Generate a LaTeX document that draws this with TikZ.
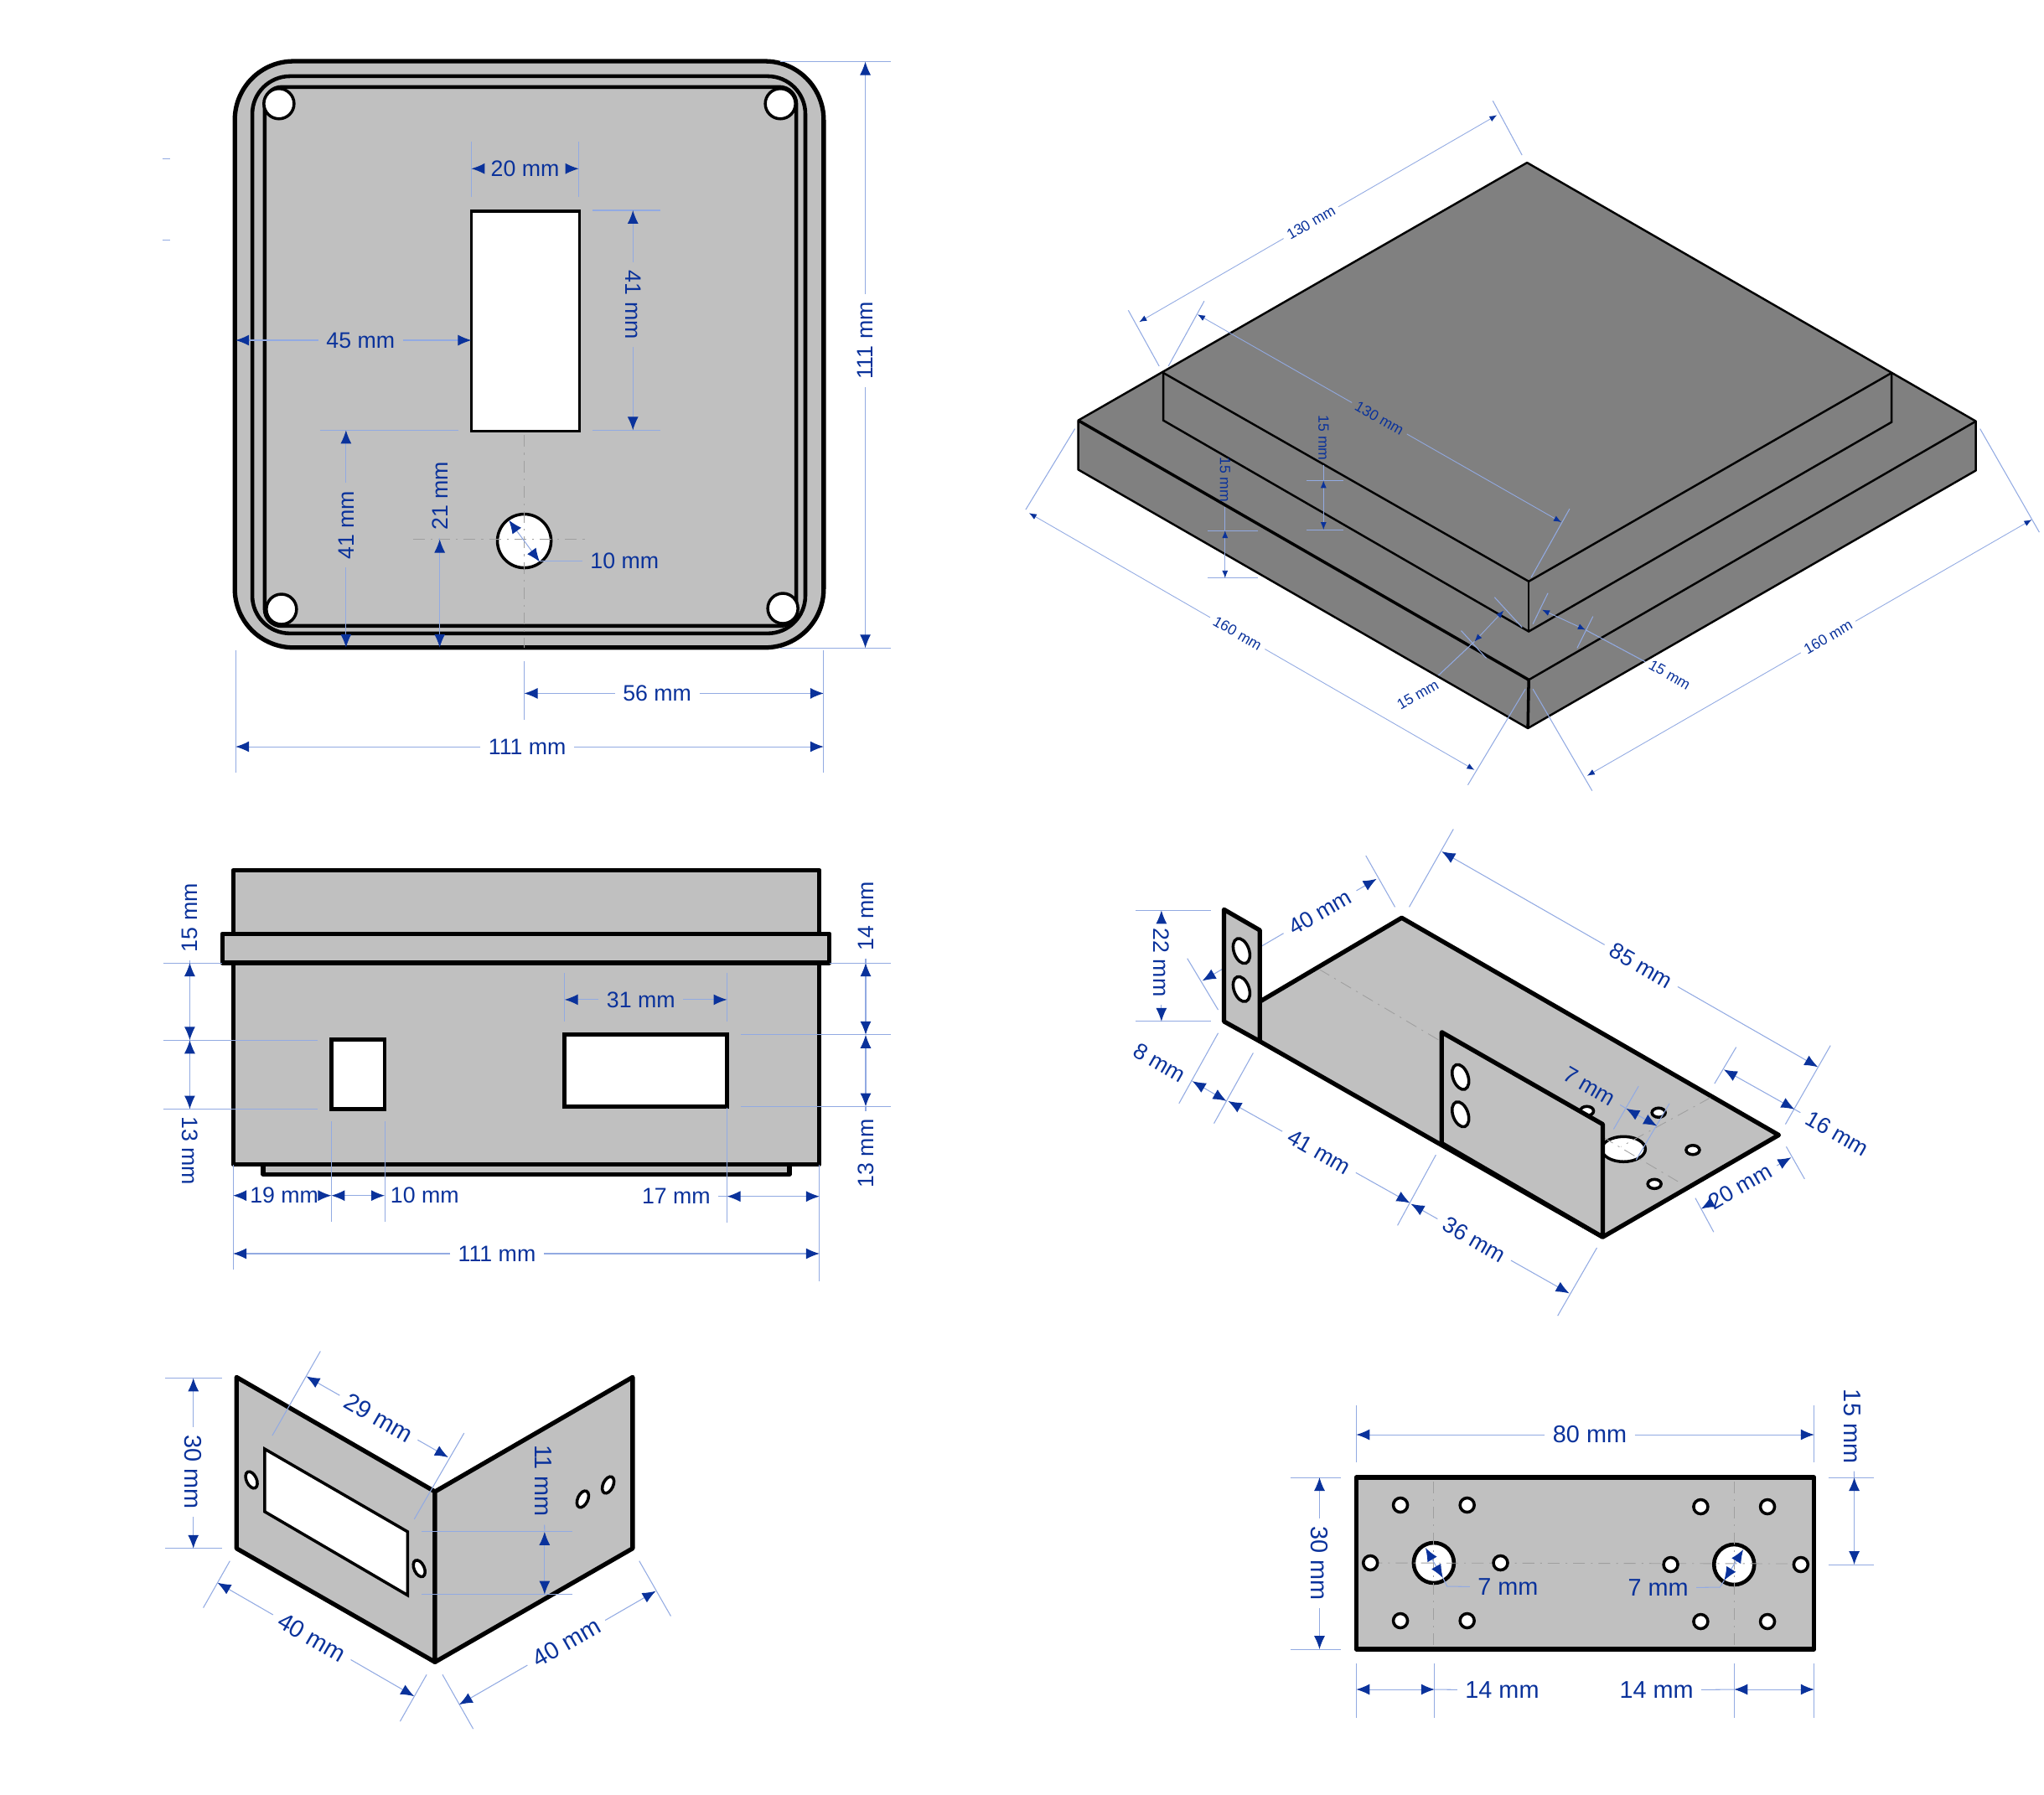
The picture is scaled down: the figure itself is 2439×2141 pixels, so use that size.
\documentclass[tikz,border=0pt]{standalone}
\usepackage{fontspec}
\setmainfont{Liberation Sans}
\usetikzlibrary{arrows.meta,shapes.geometric}
\definecolor{dimblue}{RGB}{10,50,155}
\definecolor{dimgrey}{RGB}{146,170,226}
\definecolor{plate}{RGB}{192,192,192}
\definecolor{block}{RGB}{128,128,128}
\tikzset{
  dimtext/.style={text=dimblue,font=\fontsize{7.6pt}{8pt}\selectfont,inner sep=2.5pt},
  bigtext/.style={text=dimblue,font=\fontsize{8.2pt}{9pt}\selectfont,inner sep=2.5pt},
  smalltext/.style={text=dimblue,font=\fontsize{5pt}{6pt}\selectfont,inner sep=1.5pt},
  extline/.style={draw=dimgrey,line width=0.3pt},
  dimline/.style={draw=dimgrey,line width=0.3pt,-{Latex[length=1.6mm,width=1.3mm,color=dimblue]}},
  dimboth/.style={draw=dimgrey,line width=0.3pt,{Latex[length=1.6mm,width=1.3mm,color=dimblue]}-{Latex[length=1.6mm,width=1.3mm,color=dimblue]}},
  tinyline/.style={draw=dimgrey,line width=0.25pt,-{Latex[length=0.9mm,width=0.7mm,color=dimblue]}},
  tinyboth/.style={draw=dimgrey,line width=0.25pt,{Latex[length=0.9mm,width=0.7mm,color=dimblue]}-{Latex[length=0.9mm,width=0.7mm,color=dimblue]}},
  centreline/.style={draw=gray!75,line width=0.25pt,dash pattern=on 4pt off 2pt on 0.6pt off 2pt},
  sheet/.style={draw=black,line width=1.5pt,line join=round,fill=plate},
  solid block/.style={draw=black,line width=0.7pt,line join=round,fill=block},
  window/.style={draw=black,line width=1pt,fill=white},
  hole/.style={draw=black,circle,fill=white,line width=1pt,inner sep=0pt},
  slot/.style={draw=black,ellipse,fill=white,line width=1pt,inner sep=0pt}
}
\begin{document}
\begin{tikzpicture}[x=0.01cm,y=-0.01cm]
\useasboundingbox (0,0) rectangle (2439,2141);

% lid, front view
\begin{scope}[x=0.009934cm,y=-0.009934cm,shift={(1.9,0.5)}]
\path[draw=dimgrey,line width=0.3pt] (193,190.5) -- (202,190.5);
\path[draw=dimgrey,line width=0.3pt] (193,287.5) -- (202,287.5);
\path[sheet,rounded corners=0.7cm] (280,73) rectangle (987,777);
\path[draw,line width=1.3pt,rounded corners=0.45cm] (301,91) rectangle (965,760);
\path[draw,line width=1.3pt,rounded corners=0.2cm] (316,104) rectangle (954,751);
\node[hole,minimum size=0.36cm] (a1) at (333,124) {};
\node[hole,minimum size=0.36cm] (a2) at (935,124) {};
\node[hole,minimum size=0.36cm] (a3) at (336,731) {};
\node[hole,minimum size=0.36cm] (a4) at (938,730) {};
\path[window] (564,253) rectangle (694,517);
\node[hole,minimum size=0.64cm] (a5) at (627.5,649) {};
\path[centreline] (494,647) -- (700,647);
\path[centreline] (627.5,522) -- (627.5,777);

\path[extline] (564,170) -- (564,236);
\path[extline] (693,170) -- (693,236);
\path (564,202) coordinate (a6) -- (693,202) coordinate (a7) node[dimtext,pos=.5] (a8) {20 mm};
\path[dimline] (a8) -- (a6);
\path[dimline] (a8) -- (a7);
\path[extline] (709,252) -- (791,252);
\path[extline] (709,516) -- (791,516);
\path (758,252) coordinate (a9) -- (758,516) coordinate (a10) node[dimtext,pos=.43,rotate=-90] (a11) {41 mm};
\path[dimline] (a11) -- (a9);
\path[dimline] (a11) -- (a10);
\path (281,408) coordinate (a12) -- (564,408) coordinate (a13) node[dimtext,pos=.53] (a14) {45 mm};
\path[dimline] (a14) -- (a12);
\path[dimline] (a14) -- (a13);
\path[extline] (382,516) -- (548,516);
\path (413.5,516) coordinate (a15) -- (413.5,777) coordinate (a16) node[dimtext,pos=.437,rotate=90] (a17) {41 mm};
\path[dimline] (a17) -- (a15);
\path[dimline] (a17) -- (a16);
\node[dimtext,rotate=90] (a18) at (526,595) {21 mm};
\coordinate (a19) at (526,647);
\coordinate (a20) at (526,777);
\path[dimboth] (a19) -- (a20);
\path[extline] (a18) -- (a19);
\path[dimboth] (609,624) -- (646,674);
\node[dimtext] (a21) at (748,673) {10 mm};
\path[extline] (a21) -- (646,673);
\path[extline] (627.5,793) -- (627.5,864);
\path (627.5,832) coordinate (a22) -- (987,832) coordinate (a23) node[dimtext,pos=.444] (a24) {56 mm};
\path[dimline] (a24) -- (a22);
\path[dimline] (a24) -- (a23);
\path[extline] (281,780) -- (281,927);
\path[extline] (987,780) -- (987,927);
\path (281,896) coordinate (a25) -- (987,896) coordinate (a26) node[dimtext,pos=.496] (a27) {111 mm};
\path[dimline] (a27) -- (a25);
\path[dimline] (a27) -- (a26);
\path[extline] (935,73.5) -- (1068,73.5);
\path[extline] (935,777.5) -- (1068,777.5);
\path (1037,73.5) coordinate (a28) -- (1037,777.5) coordinate (a29) node[dimtext,pos=.476,rotate=90] (a30) {111 mm};
\path[dimline] (a30) -- (a28);
\path[dimline] (a30) -- (a29);
\end{scope}

% stepped block
\begin{scope}[x=0.009942cm,y=-0.00995cm,shift={(5.5,0.97)}]
\path[solid block] (1287,503) -- (1825,194) -- (2363,504) -- (2363,563) -- (1826,872) -- (1287,562) -- cycle;
\path[draw,line width=1pt] (1287,503) -- (1827,814);
\path[draw,line width=0.7pt] (1827,814) -- (2363,504);
\path[draw,line width=1pt] (1827,814) -- (1826,872);
\path[draw,line width=0.7pt] (1389,446) -- (1827,696) -- (2262,446);
\path[draw,line width=0.7pt] (1389,446) -- (1389,503) -- (1827,756) -- (2262,505) -- (2262,446);
\path[draw,line width=0.7pt] (1827,696) -- (1827,756);

\path[extline] (1784,120) -- (1819,185);
\path[extline] (1347,371) -- (1384,438);
\path (1360,385) coordinate (b1) -- (1789,137) coordinate (b2) node[smalltext,pos=.48,rotate=30] (b3) {130 mm};
\path[tinyline] (b3) -- (b1);
\path[tinyline] (b3) -- (b2);
\path[extline] (1438,360) -- (1395,438);
\path[extline] (1876,609) -- (1830,691);
\path (1430,376) coordinate (b4) -- (1866,625) coordinate (b5) node[smalltext,pos=.5,rotate=-30] (b6) {130 mm};
\path[tinyline] (b6) -- (b4);
\path[tinyline] (b6) -- (b5);
\path[extline] (1283,513) -- (1224,610);
\path[extline] (1823,825) -- (1754,940);
\path (1228,614) coordinate (b7) -- (1762,922) coordinate (b8) node[smalltext,pos=.468,rotate=-30] (b9) {160 mm};
\path[tinyline] (b9) -- (b7);
\path[tinyline] (b9) -- (b8);
\path[extline] (1832,825) -- (1903,947);
\path[extline] (2368,513) -- (2439,637);
\path (1897,929) coordinate (b10) -- (2430,622) coordinate (b11) node[smalltext,pos=.542,rotate=30] (b12) {160 mm};
\path[tinyline] (b12) -- (b10);
\path[tinyline] (b12) -- (b11);
\path[extline] (1561,575) -- (1605,575);
\path[extline] (1561,634) -- (1605,634);
\node[smalltext,rotate=-90] (b13) at (1581,524) {15 mm};
\path[tinyboth] (1581,575) coordinate (b14) -- (1581,634);
\path[extline] (b13) -- (b14);
\path[extline] (1442,635) -- (1502,635);
\path[extline] (1442,692) -- (1502,692);
\node[smalltext,rotate=-90] (b15) at (1463,574) {15 mm};
\path[tinyboth] (1463,635) coordinate (b16) -- (1463,692);
\path[extline] (b15) -- (b16);
\path[extline] (1786,715) -- (1819,751);
\path[extline] (1746,755) -- (1776,788);
\node[smalltext,rotate=30] (b17) at (1694,832) {15 mm};
\path[tinyboth] (1797,731) -- (1762,768) coordinate (b18);
\path[extline] (b17) -- (b18);
\path[extline] (1850,710) -- (1832,747);
\path[extline] (1904,738) -- (1885,776);
\node[smalltext,rotate=-30] (b19) at (1996,808) {15 mm};
\path[tinyboth] (1843,730) -- (1895,754) coordinate (b20);
\path[extline] (b19) -- (b20);
\end{scope}

% box, side view
\begin{scope}[x=0.009934cm,y=-0.009966cm,shift={(1.85,3.54)}]
\path[sheet] (278,1038) rectangle (982,1390);
\path[sheet] (314,1390) rectangle (946,1402);
\path[sheet] (265,1114) rectangle (994,1149);
\path[window,line width=1.3pt] (396,1241) rectangle (460,1324);
\path[window,line width=1.3pt] (676,1235) rectangle (871,1321);

\path[extline] (194,1149) -- (265,1149);
\path[extline] (194,1241.5) -- (379,1241.5);
\path[extline] (194,1324) -- (379,1324);
\node[dimtext,rotate=90] (c1) at (226,1095) {15 mm};
\path[dimboth] (226,1149) coordinate (c2) -- (226,1241.5);
\path[extline] (c1) -- (c2);
\node[dimtext,rotate=-90] (c3) at (226,1374) {13 mm};
\path[dimboth] (226,1241.5) -- (226,1324) coordinate (c4);
\path[extline] (c3) -- (c4);
\path[extline] (994,1149) -- (1068,1149);
\path[extline] (888,1235) -- (1068,1235);
\path[extline] (888,1321) -- (1068,1321);
\node[dimtext,rotate=90] (c5) at (1037.5,1093) {14 mm};
\path[dimboth] (1037.5,1149) coordinate (c6) -- (1037.5,1235);
\path[extline] (c5) -- (c6);
\node[dimtext,rotate=90] (c7) at (1037.5,1377) {13 mm};
\path[dimboth] (1037.5,1235) -- (1037.5,1321) coordinate (c8);
\path[extline] (c7) -- (c8);
\path[extline] (676,1161) -- (676,1219);
\path[extline] (871,1161) -- (871,1219);
\path (676,1193) coordinate (c9) -- (871,1193) coordinate (c10) node[dimtext,pos=.47] (c11) {31 mm};
\path[dimline] (c11) -- (c9);
\path[dimline] (c11) -- (c10);
\path[extline] (396,1339) -- (396,1459);
\path[extline] (460,1339) -- (460,1459);
\path[extline] (871,1322) -- (871,1460);
\path[extline] (278,1391) -- (278,1516);
\path[extline] (982,1391) -- (982,1530);
\path (278,1427.5) coordinate (c12) -- (396,1427.5) coordinate (c13) node[dimtext,pos=.52] (c14) {19 mm};
\path[dimline] (c14) -- (c12);
\path[dimline] (c14) -- (c13);
\path[dimboth] (396,1427.5) -- (460,1427.5);
\node[dimtext] (c15) at (508,1427.5) {10 mm};
\node[dimtext] (c16) at (810,1428.5) {17 mm};
\path[dimboth] (871,1428.5) coordinate (c17) -- (982,1428.5);
\path[extline] (c16) -- (c17);
\path (278,1497) coordinate (c18) -- (982,1497) coordinate (c19) node[dimtext,pos=.45] (c20) {111 mm};
\path[dimline] (c20) -- (c18);
\path[dimline] (c20) -- (c19);
\end{scope}

% bracket with two tabs
\begin{scope}[x=0.009953cm,y=-0.00989cm,shift={(6.2,12.05)}]
\path[extline] (1355,1086) -- (1445,1086);
\path[extline] (1355,1220) -- (1445,1220);
\path (1386,1086) coordinate (d1) -- (1386,1220) coordinate (d2) node[dimtext,pos=.47,rotate=-90] (d3) {22 mm};
\path[dimline] (d3) -- (d1);
\path[dimline] (d3) -- (d2);
\path[extline] (1417,1144) -- (1454,1206);
\path[extline] (1631,1020) -- (1666,1082);
\path (1435,1171) coordinate (d4) -- (1644,1048) coordinate (d5) node[dimtext,pos=.675,rotate=30] (d6) {40 mm};
\path[dimline] (d6) -- (d4);
\path[dimline] (d6) -- (d5);
\path[sheet] (1504,1196) -- (1674,1095) -- (2126,1357) -- (1915,1480) -- (1504,1244) -- cycle;
\node[slot,minimum width=0.52cm,minimum height=0.3cm] (d7) at (1940,1374) {};
\path[centreline] (1575,1157) -- (2005,1413);
\path[centreline] (2044,1312) -- (1937,1371);
\node[slot,minimum width=0.16cm,minimum height=0.11cm] (d8) at (1896,1328) {};
\node[slot,minimum width=0.16cm,minimum height=0.11cm] (d9) at (1982,1330) {};
\node[slot,minimum width=0.16cm,minimum height=0.11cm] (d10) at (2023,1375) {};
\node[slot,minimum width=0.16cm,minimum height=0.11cm] (d11) at (1977,1416) {};
\path[sheet] (1461,1085) -- (1504,1110) -- (1504,1244) -- (1461,1220) -- cycle;
\node[slot,minimum width=0.18cm,minimum height=0.31cm,rotate=20] (d12) at (1482,1135) {};
\node[slot,minimum width=0.18cm,minimum height=0.31cm,rotate=20] (d13) at (1482,1181) {};
\path[sheet] (1722,1233) -- (1915,1344) -- (1915,1480) -- (1722,1367) -- cycle;
\node[slot,minimum width=0.18cm,minimum height=0.31cm,rotate=20] (d14) at (1744.5,1287) {};
\node[slot,minimum width=0.18cm,minimum height=0.31cm,rotate=20] (d15) at (1744.5,1332) {};

\path[extline] (1736,988) -- (1683,1082);
\path[extline] (2188,1249) -- (2134,1344);
\path (1722,1015) coordinate (d16) -- (2173,1275) coordinate (d17) node[dimtext,pos=.53,rotate=-30] (d18) {85 mm};
\path[dimline] (d18) -- (d16);
\path[dimline] (d18) -- (d17);
\path[extline] (2075,1251) -- (2049,1295);
\node[dimtext,rotate=-30] (d19) at (2196,1355) {16 mm};
\path[dimboth] (2060,1278) -- (2145,1326) coordinate (d20);
\path[extline] (d19) -- (d20);
\path[extline] (1958,1298) -- (1928,1350);
\path[extline] (1995,1319) -- (1955,1387);
\node[dimtext,rotate=-30] (d21) at (1899,1298) {7 mm};
\path[dimboth] (1943,1325) coordinate (d22) -- (1980,1346);
\path[extline] (d21) -- (d22);
\path[extline] (2135,1371) -- (2157,1410);
\path[extline] (2026,1433) -- (2048,1474);
\path (2141,1384) coordinate (d23) -- (2033,1446) coordinate (d24) node[dimtext,pos=.567,rotate=30] (d25) {20 mm};
\path[dimline] (d25) -- (d23);
\path[dimline] (d25) -- (d24);
\path[extline] (1454,1234) -- (1407,1319);
\path[extline] (1496,1258) -- (1449,1343);
\node[dimtext,rotate=-30] (d26) at (1384,1270) {8 mm};
\path[dimboth] (1423,1292) coordinate (d27) -- (1464,1316);
\path[extline] (d26) -- (d27);
\path (1466,1316) coordinate (d28) -- (1684,1439) coordinate (d29) node[dimtext,pos=.5,rotate=-30] (d30) {41 mm};
\path[dimline] (d30) -- (d28);
\path[dimline] (d30) -- (d29);
\path[extline] (1715,1381) -- (1669,1466);
\path (1685,1440) coordinate (d31) -- (1875,1548) coordinate (d32) node[dimtext,pos=.40,rotate=-30] (d33) {36 mm};
\path[dimline] (d33) -- (d31);
\path[dimline] (d33) -- (d32);
\path[extline] (1908,1493) -- (1861,1575);
\end{scope}

% corner piece
\begin{scope}[x=0.0099cm,y=-0.00996cm,shift={(3.85,6.4)}]
\path[sheet] (281,1642) -- (520,1779) -- (520,1983) -- (281,1847) -- cycle;
\path[sheet] (520,1779) -- (758,1642) -- (758,1847) -- (520,1983) -- cycle;
\path[window] (315,1728) -- (487,1827) -- (487,1903) -- (315,1803) -- cycle;
\node[slot,minimum width=0.12cm,minimum height=0.21cm,rotate=25] (e1) at (299,1765) {};
\node[slot,minimum width=0.12cm,minimum height=0.21cm,rotate=25] (e2) at (501,1871) {};
\node[slot,minimum width=0.12cm,minimum height=0.21cm,rotate=-25] (e3) at (698,1788) {};
\node[slot,minimum width=0.12cm,minimum height=0.21cm,rotate=-25] (e4) at (728.5,1771) {};

\path[extline] (195,1643) -- (264,1643);
\path[extline] (195,1847) -- (264,1847);
\path (229,1643) coordinate (e5) -- (229,1847) coordinate (e6) node[bigtext,pos=.55,rotate=-90] (e7) {30 mm};
\path[dimline] (e7) -- (e5);
\path[dimline] (e7) -- (e6);
\path[extline] (382,1611) -- (324,1712);
\path[extline] (555,1709) -- (495,1812);
\path (365,1641) coordinate (e8) -- (536,1738) coordinate (e9) node[bigtext,pos=.51,rotate=-30] (e10) {29 mm};
\path[dimline] (e10) -- (e8);
\path[dimline] (e10) -- (e9);
\path[extline] (504,1827) -- (685,1827);
\path[extline] (504,1902) -- (685,1902);
\node[bigtext,rotate=-90] (e11) at (651,1766) {11 mm};
\path[dimboth] (652,1827) coordinate (e12) -- (652,1902);
\path[extline] (e11) -- (e12);
\path[extline] (273,1862) -- (241,1918);
\path[extline] (510,1998) -- (478,2054);
\path (258,1888) coordinate (e13) -- (495,2024) coordinate (e14) node[bigtext,pos=.48,rotate=-30] (e15) {40 mm};
\path[dimline] (e15) -- (e13);
\path[dimline] (e15) -- (e14);
\path[extline] (529,1998) -- (566,2063);
\path[extline] (766,1862) -- (804,1928);
\path (549,2034) coordinate (e16) -- (786,1898) coordinate (e17) node[bigtext,pos=.545,rotate=30] (e18) {40 mm};
\path[dimline] (e18) -- (e16);
\path[dimline] (e18) -- (e17);
\end{scope}

% base plate with holes
\begin{scope}[x=0.009943cm,shift={(7.7,0)}]
\path[sheet] (1618,1763) rectangle (2167,1968);
\node[hole,line width=1.3pt,minimum size=0.48cm] (f1) at (1711,1865) {};
\node[hole,line width=1.3pt,minimum size=0.48cm] (f2) at (2071,1867) {};
\path[centreline] (1635,1865) -- (2151,1866);
\path[centreline] (1711,1768) -- (1711,1963);
\path[centreline] (2071,1768) -- (2071,1963);
\node[hole,minimum size=0.17cm] (f3) at (1671,1796) {};
\node[hole,minimum size=0.17cm] (f4) at (1751,1796) {};
\node[hole,minimum size=0.17cm] (f5) at (1635,1865) {};
\node[hole,minimum size=0.17cm] (f6) at (1791,1865) {};
\node[hole,minimum size=0.17cm] (f7) at (1671,1934) {};
\node[hole,minimum size=0.17cm] (f8) at (1751,1934) {};
\node[hole,minimum size=0.17cm] (f9) at (2031,1798) {};
\node[hole,minimum size=0.17cm] (f10) at (2111,1798) {};
\node[hole,minimum size=0.17cm] (f11) at (1995,1867) {};
\node[hole,minimum size=0.17cm] (f12) at (2151,1867) {};
\node[hole,minimum size=0.17cm] (f13) at (2031,1935) {};
\node[hole,minimum size=0.17cm] (f14) at (2111,1935) {};

\path[extline] (1618,1677) -- (1618,1745);
\path[extline] (2167,1677) -- (2167,1745);
\path (1618,1712) coordinate (f15) -- (2167,1712) coordinate (f16) node[bigtext,pos=.51] (f17) {80 mm};
\path[dimline] (f17) -- (f15);
\path[dimline] (f17) -- (f16);
\path[extline] (1539,1763) -- (1600,1763);
\path[extline] (1539,1968) -- (1600,1968);
\path (1574,1763) coordinate (f18) -- (1574,1968) coordinate (f19) node[bigtext,pos=.5,rotate=-90] (f20) {30 mm};
\path[dimline] (f20) -- (f18);
\path[dimline] (f20) -- (f19);
\path[extline] (2184,1763) -- (2239,1763);
\path[extline] (2184,1867) -- (2239,1867);
\node[bigtext,rotate=-90] (f21) at (2213,1702) {15 mm};
\path[dimboth] (2215,1763) coordinate (f22) -- (2215,1867);
\path[extline] (f21) -- (f22);
\path[extline] (1618,1985) -- (1618,2050);
\path[extline] (1712,1985) -- (1712,2050);
\path[extline] (2071,1985) -- (2071,2050);
\path[extline] (2167,1985) -- (2167,2050);
\node[bigtext] (f23) at (1793,2017) {14 mm};
\path[dimboth] (1618,2016) -- (1712,2016) coordinate (f24);
\path[extline] (f23) -- (f24);
\node[bigtext] (f25) at (1978,2017) {14 mm};
\path[dimboth] (2071,2016) coordinate (f26) -- (2167,2016);
\path[extline] (f25) -- (f26);
\path[dimboth] (1701,1847) -- (1722,1883);
\node[bigtext] (f27) at (1800,1894) {7 mm};
\path[extline] (1722,1883) -- (1727,1893) -- (f27);
\path[dimboth] (2082,1849) -- (2059,1886);
\node[bigtext] (f28) at (1980,1895) {7 mm};
\path[extline] (2059,1886) -- (2054,1894) -- (f28);
\end{scope}
\end{tikzpicture}
\end{document}
